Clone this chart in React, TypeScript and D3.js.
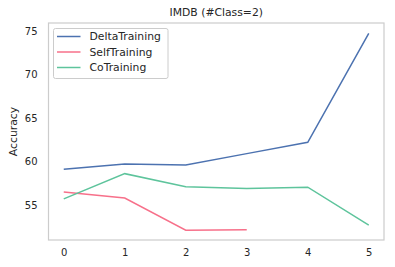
import React, { useEffect, useRef } from 'react';
import * as d3 from 'd3';

const steps = [0, 1, 2, 3, 4, 5];
const deltaTraining = [59.1, 59.7, 59.6, 60.9, 62.2, 74.7];
const selfTraining = [56.5, 55.8, 52.1, 52.15];
const coTraining = [55.7, 58.6, 57.1, 56.9, 57.05, 52.7];
const yTicks = [55, 60, 65, 70, 75];

const seriesList = [
  { name: 'DeltaTraining', values: deltaTraining, color: '#4c72b0' },
  { name: 'SelfTraining', values: selfTraining, color: '#f7708a' },
  { name: 'CoTraining', values: coTraining, color: '#5ec49c' },
];

const W = 395;
const H = 267;
const margin = { top: 23, right: 11, bottom: 27, left: 48.5 };
const font = 'DejaVu Sans, sans-serif';

const App = () => {
  const svgRef = useRef<SVGSVGElement>(null);

  useEffect(() => {
    const svg = d3.select(svgRef.current);
    svg.selectAll('*').remove();

    const x = d3.scaleLinear()
      .domain([-0.25, 5.25])
      .range([margin.left, W - margin.right]);

    const y = d3.scaleLinear()
      .domain([50.98, 75.9])
      .range([H - margin.bottom, margin.top]);

    // axes frame
    svg.append('rect')
      .attr('x', margin.left)
      .attr('y', margin.top)
      .attr('width', W - margin.right - margin.left)
      .attr('height', H - margin.bottom - margin.top)
      .attr('fill', 'white')
      .attr('stroke', '#cccccc')
      .attr('stroke-width', 1.2);

    const xAxis = d3.axisBottom(x).tickValues(steps).tickFormat(d3.format('d')).tickSize(0).tickPadding(9);
    const yAxis = d3.axisLeft(y).tickValues(yTicks).tickSize(0).tickPadding(11);

    const gx = svg.append('g')
      .attr('transform', `translate(0, ${H - margin.bottom})`)
      .call(xAxis);
    const gy = svg.append('g')
      .attr('transform', `translate(${margin.left}, 0)`)
      .call(yAxis);

    [gx, gy].forEach(g => {
      g.select('.domain').remove();
      g.selectAll('text')
        .attr('fill', '#262626')
        .style('font-family', font)
        .style('font-size', '10px');
    });

    const line = d3.line<number>()
      .x((_, i) => x(steps[i]))
      .y(d => y(d));

    seriesList.forEach(s => {
      svg.append('path')
        .datum(s.values)
        .attr('d', line)
        .attr('fill', 'none')
        .attr('stroke', s.color)
        .attr('stroke-width', 1.5);
    });

    // title
    svg.append('text')
      .attr('x', (margin.left + W - margin.right) / 2)
      .attr('y', 16)
      .attr('text-anchor', 'middle')
      .attr('fill', '#262626')
      .style('font-family', font)
      .style('font-size', '10.8px')
      .text('IMDB (#Class=2)');

    // y label
    svg.append('text')
      .attr('transform', `translate(17, ${(margin.top + H - margin.bottom) / 2}) rotate(-90)`)
      .attr('text-anchor', 'middle')
      .attr('fill', '#262626')
      .style('font-family', font)
      .style('font-size', '10.8px')
      .text('Accuracy');

    // legend
    const legend = svg.append('g');
    legend.append('rect')
      .attr('x', 53.5)
      .attr('y', 28.5)
      .attr('width', 114.5)
      .attr('height', 50)
      .attr('rx', 2)
      .attr('fill', 'white')
      .attr('fill-opacity', 0.8)
      .attr('stroke', '#cccccc')
      .attr('stroke-width', 1);

    seriesList.forEach((s, i) => {
      const ly = 36.5 + i * 15.5;
      legend.append('line')
        .attr('x1', 57)
        .attr('x2', 80.5)
        .attr('y1', ly)
        .attr('y2', ly)
        .attr('stroke', s.color)
        .attr('stroke-width', 1.5);
      legend.append('text')
        .attr('x', 89.5)
        .attr('y', ly)
        .attr('dy', '0.35em')
        .attr('fill', '#262626')
        .style('font-family', font)
        .style('font-size', '10.8px')
        .text(s.name);
    });
  }, []);

  return (
    <div style={{ position: 'absolute', left: 0, top: 0 }}>
      <svg ref={svgRef} width={W} height={H} style={{ display: 'block' }}></svg>
    </div>
  );
};

export default App;
